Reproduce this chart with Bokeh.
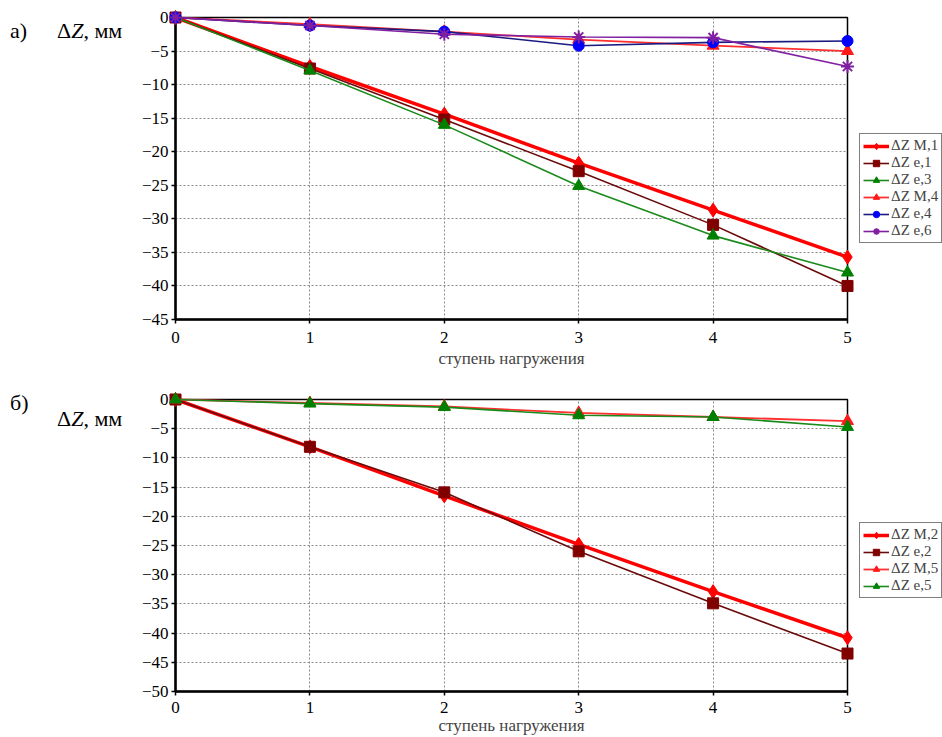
from bokeh.plotting import figure
from bokeh.models import Legend, LegendItem, FixedTicker, Range1d, Div
from bokeh.layouts import column, row
from bokeh.embed import file_html
from bokeh.resources import INLINE

steps = [0, 1, 2, 3, 4, 5]

# panel a)
zM1 = [0, -7.3, -14.4, -21.7, -28.7, -35.7]
ze1 = [0, -7.6, -15.2, -22.9, -30.9, -40.0]
ze3 = [0, -7.9, -16.0, -25.1, -32.5, -38.0]
zM4 = [0, -1.0, -2.1, -3.3, -4.2, -5.0]
ze4 = [0, -1.2, -2.1, -4.2, -3.7, -3.5]
ze6 = [0, -1.2, -2.5, -2.9, -3.0, -7.3]

# panel б)
zM2 = [0, -8.1, -16.5, -24.8, -32.9, -40.8]
ze2 = [0, -8.1, -15.9, -26.0, -34.9, -43.5]
zM5 = [0, -0.6, -1.2, -2.3, -3.0, -3.7]
ze5 = [0, -0.7, -1.3, -2.7, -3.0, -4.7]

labels_a = ["ΔZ M,1", "ΔZ e,1", "ΔZ e,3", "ΔZ M,4", "ΔZ e,4", "ΔZ e,6"]
labels_b = ["ΔZ M,2", "ΔZ e,2", "ΔZ M,5", "ΔZ e,5"]

xlabel = "ступень нагружения"
ylabel_html = "Δ<i>Z</i>, мм"
panel_a = "а)"
panel_b = "б)"

FONT = "Liberation Serif"
TEXT_W = 130


def make_fig(top_border, frame_h, bottom_border, label_standoff, title_standoff,
             ymin, yticks):
    p = figure(frame_width=672, frame_height=frame_h, output_backend="svg",
               toolbar_location=None,
               x_range=Range1d(0, 5), y_range=Range1d(ymin, 0),
               min_border_left=45, min_border_right=95,
               min_border_top=top_border, min_border_bottom=bottom_border)
    p.xaxis.ticker = FixedTicker(ticks=steps)
    p.yaxis.ticker = FixedTicker(ticks=yticks)
    for ax in (p.xaxis[0], p.yaxis[0]):
        ax.axis_line_width = 2.5
        ax.axis_line_color = "black"
        ax.major_tick_in = 0
        ax.major_tick_out = 4
        ax.major_tick_line_width = 1.5
        ax.minor_tick_line_color = None
        ax.major_label_text_font = FONT
        ax.major_label_text_font_size = "17px"
        ax.major_label_text_color = "black"
        ax.major_label_text_line_height = 0.9
        ax.major_label_standoff = 3
    p.xaxis.major_label_standoff = label_standoff
    p.xaxis.axis_label = xlabel
    p.xaxis.axis_label_text_font = FONT
    p.xaxis.axis_label_text_font_style = "normal"
    p.xaxis.axis_label_text_font_size = "17px"
    p.xaxis.axis_label_text_line_height = 0.9
    p.xaxis.axis_label_standoff = title_standoff
    p.outline_line_color = "black"
    p.outline_line_width = 1.5
    p.xgrid.grid_line_color = "#888888"
    p.ygrid.grid_line_color = "#888888"
    p.xgrid.grid_line_dash = "2 2"
    p.ygrid.grid_line_dash = "2 2"
    p.xgrid.grid_line_width = 1
    p.ygrid.grid_line_width = 1
    return p


def text_div(height, tag, tag_x, tag_top, yl_top):
    span = ("position:absolute;white-space:nowrap;line-height:24px;"
            "font-family:'Liberation Serif',serif;color:black;")
    html = (
        f'<div style="position:relative;width:{TEXT_W}px;height:{height}px;">'
        f'<span style="{span}left:{tag_x}px;top:{tag_top}px;font-size:22px;">{tag}</span>'
        f'<span style="{span}left:57px;top:{yl_top}px;font-size:22px;">{ylabel_html}</span>'
        '</div>'
    )
    return Div(text=html, width=TEXT_W, height=height, margin=0)


def add_series(p, y, color, lcolor, lw, marker, size, label, items):
    ln = p.line(steps, y, line_color=lcolor, line_width=lw)
    sc = p.scatter(steps, y, marker=marker, size=size, fill_color=color,
                   line_color=color, line_width=2 if marker == "asterisk" else 1)
    ln.level = "overlay"
    sc.level = "overlay"
    items.append(LegendItem(label=label, renderers=[ln, sc]))


def style_legend(items, loc):
    lg = Legend(items=items, location=loc, margin=0, padding=3, spacing=0,
                glyph_width=26, glyph_height=16, label_height=16,
                label_standoff=2, label_text_font=FONT,
                label_text_font_size="15px", border_line_color="black",
                border_line_width=1, background_fill_alpha=1)
    return lg

# ---------- panel a ----------
pa = make_fig(17, 302, 51, 8, 3, -45, list(range(-45, 1, 5)))
items_a = []
add_series(pa, zM1, "#ff0000", "#ff0000", 3.5, "diamond", 14, labels_a[0], items_a)
add_series(pa, ze1, "#800000", "#6b0a0a", 1.6, "square", 11, labels_a[1], items_a)
add_series(pa, ze3, "#008000", "#1a8a1a", 1.6, "triangle", 12, labels_a[2], items_a)
add_series(pa, zM4, "#ff1a1a", "#ff3030", 1.8, "triangle", 12, labels_a[3], items_a)
add_series(pa, ze4, "#0000ff", "#1a1a80", 1.6, "circle", 11, labels_a[4], items_a)
add_series(pa, ze6, "#8020a0", "#8020a0", 1.6, "asterisk", 13, labels_a[5], items_a)
pa.add_layout(style_legend(items_a, (12, 76)), "right")
ta = text_div(370, panel_a, 10, 19, 19)

# ---------- panel б ----------
pb = make_fig(29, 292, 46, 6, 0, -50, list(range(-50, 1, 5)))
items_b = []
add_series(pb, zM2, "#ff0000", "#ff0000", 3.5, "diamond", 14, labels_b[0], items_b)
add_series(pb, ze2, "#800000", "#6b0a0a", 1.6, "square", 11, labels_b[1], items_b)
add_series(pb, zM5, "#ff1a1a", "#ff3030", 1.8, "triangle", 12, labels_b[2], items_b)
add_series(pb, ze5, "#008000", "#1a8a1a", 1.6, "triangle", 12, labels_b[3], items_b)
pb.add_layout(style_legend(items_b, (12, 93)), "right")
tb = text_div(367, panel_b, 10, 21, 37)

layout = column(row(ta, pa, spacing=0), row(tb, pb, spacing=0), spacing=0)
open("out.html", "w").write(file_html(layout, INLINE))
